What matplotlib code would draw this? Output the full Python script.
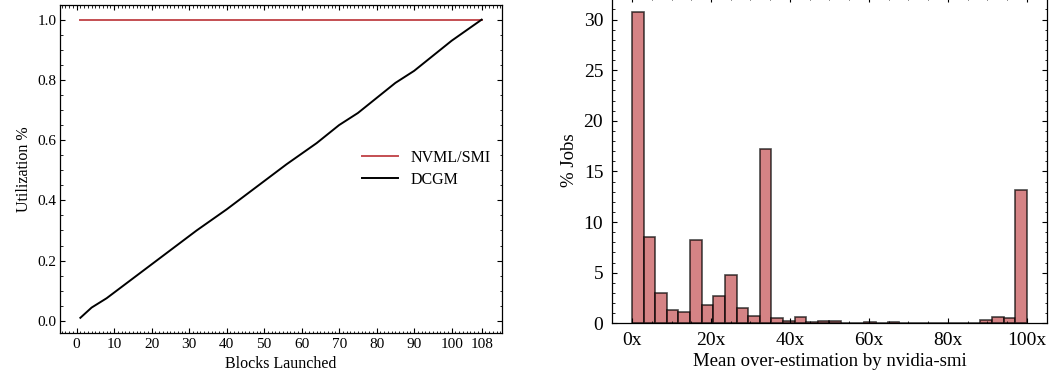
import numpy as np
import matplotlib
matplotlib.use("Agg")
import matplotlib.pyplot as plt
from matplotlib.ticker import MultipleLocator, AutoMinorLocator

plt.rcParams['font.family'] = ['Liberation Serif', 'DejaVu Serif']
plt.rcParams['xtick.direction'] = 'in'
plt.rcParams['ytick.direction'] = 'in'
plt.rcParams['xtick.top'] = True
plt.rcParams['ytick.right'] = True
plt.rcParams['axes.linewidth'] = 0.9

# left panel: utilization vs blocks launched
blocks = [1, 4, 8, 16, 24, 32, 40, 48, 56, 64, 70, 75, 80, 85, 90, 95, 100, 104, 108]
dcgm = [0.01, 0.044, 0.075, 0.15, 0.225, 0.30, 0.37, 0.445, 0.52, 0.59,
        0.65, 0.69, 0.74, 0.79, 0.83, 0.88, 0.93, 0.965, 1.0]
nvml = [1.0] * len(blocks)
block_ticks = [0, 10, 20, 30, 40, 50, 60, 70, 80, 90, 100, 108]

# right panel: histogram of over-estimation (percent of jobs per bin)
bin_edges = np.linspace(0, 100, 35)
pct_jobs = [30.7, 8.5, 3.0, 1.3, 1.1, 8.2, 1.8, 2.7, 4.8, 1.5, 0.7, 17.2,
            0.5, 0.2, 0.6, 0.1, 0.2, 0.2, 0.05, 0.0, 0.15, 0.07, 0.12, 0.05,
            0.05, 0.03, 0.03, 0.05, 0.02, 0.07, 0.35, 0.62, 0.55, 13.2]
over_ticks = [0, 20, 40, 60, 80, 100]
over_labels = ["0x", "20x", "40x", "60x", "80x", "100x"]

red = "#C44E52"

fig = plt.figure(figsize=(10.56, 3.82), dpi=100)
ax1 = fig.add_axes([0.0571, 0.129, 0.418, 0.8586])
ax2 = fig.add_axes([0.5798, 0.1537, 0.4114, 0.8544])

ax1.plot(blocks, nvml, color=red, lw=1.4, label="NVML/SMI")
ax1.plot(blocks, dcgm, color="black", lw=1.4, label="DCGM")
ax1.set_xticks(block_ticks)
ax1.xaxis.set_minor_locator(MultipleLocator(1))
ax1.yaxis.set_minor_locator(AutoMinorLocator())
ax1.tick_params(which='major', length=3.6, width=0.8, labelsize=11)
ax1.tick_params(which='minor', length=1.8, width=0.6)
ax1.tick_params(axis='y', pad=2.5)
ax1.set_xlabel("Blocks Launched", fontsize=11.5)
ax1.set_ylabel("Utilization %", fontsize=11.5)
ax1.legend(frameon=False, fontsize=11.5, loc='center left',
           bbox_to_anchor=(0.652, 0.5), handlelength=2.2, labelspacing=0.35)

ax2.hist(bin_edges[:-1], bins=bin_edges, weights=pct_jobs, color=red,
         alpha=0.7, edgecolor="black", linewidth=1.2)
ax2.set_xticks(over_ticks)
ax2.set_xticklabels(over_labels)
ax2.xaxis.set_minor_locator(AutoMinorLocator())
ax2.yaxis.set_minor_locator(AutoMinorLocator())
ax2.tick_params(which='major', length=3.6, width=0.8, labelsize=14)
ax2.tick_params(which='minor', length=1.8, width=0.6)
ax2.tick_params(axis='both', pad=6.5)
ax2.set_xlabel("Mean over-estimation by nvidia-smi", fontsize=13.5, labelpad=3)
ax2.set_ylabel("% Jobs", fontsize=13.5)

fig.savefig("out.png", dpi=100)
